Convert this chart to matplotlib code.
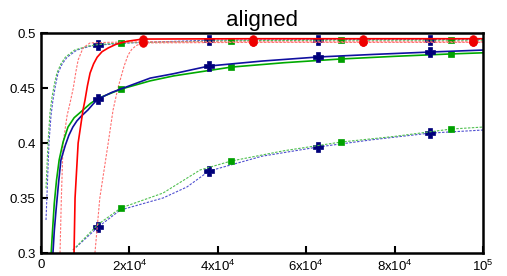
import numpy as np
import matplotlib
matplotlib.use('Agg')
import matplotlib.pyplot as plt

plt.rcParams['font.family'] = ['Liberation Sans', 'DejaVu Sans']
plt.rcParams['mathtext.fontset'] = 'custom'
plt.rcParams['mathtext.rm'] = 'Liberation Sans'
plt.rcParams['mathtext.it'] = 'Liberation Sans'

# solid curves
blue_x = [2700, 3000, 3400, 4000, 4500, 5500, 6300, 7200, 8100, 9000, 10600, 11800, 12900, 16000, 20000,
          24700, 30000, 38000, 50000, 62700, 75000, 88000, 100000]
blue_y = [0.300, 0.320, 0.339, 0.365, 0.3845, 0.398, 0.407, 0.4145, 0.420, 0.424, 0.430, 0.4355, 0.440, 0.446,
          0.452, 0.459, 0.463, 0.470, 0.4745, 0.4782, 0.4805, 0.4827, 0.4845]
blue_marks = [12900, 38000, 62700, 88000]

green_x = [2300, 2600, 3000, 3500, 4100, 5000, 6100, 7500, 9500, 11200, 12900, 18100, 24700, 30000, 43000,
           55000, 67900, 80000, 92800, 100000]
green_y = [0.300, 0.320, 0.345, 0.366, 0.3845, 0.401, 0.4145, 0.423, 0.430, 0.436, 0.4405, 0.449, 0.4565,
           0.461, 0.469, 0.473, 0.4764, 0.4788, 0.481, 0.482]
green_marks = [18100, 43000, 67900, 92800]

red_x = [7470, 7700, 8400, 9500, 9950, 10500, 11100, 11900, 12700, 13800, 15200, 17000, 19500, 23000,
         48000, 72800, 97700, 100000]
red_y = [0.300, 0.350, 0.400, 0.430, 0.439, 0.452, 0.4636, 0.472, 0.478, 0.483, 0.4864, 0.4898, 0.4925,
         0.4945, 0.4948, 0.4948, 0.4948, 0.4948]
red_marks = [23000, 48000, 72800, 97700]

# dashed curves, fast start
blue_fast_x = [1130, 1800, 2260, 2700, 3300, 3850, 4800, 5900, 8100, 11100, 12900, 20000, 38000, 62700,
               88000, 100000]
blue_fast_y = [0.330, 0.400, 0.425, 0.439, 0.453, 0.4636, 0.472, 0.478, 0.4845, 0.488, 0.489, 0.491,
               0.4935, 0.494, 0.494, 0.494]
green_fast_x = [1130, 1580, 2040, 2500, 3100, 3600, 4500, 5500, 7600, 10500, 13000, 18100, 43000, 67900,
                92800, 100000]
green_fast_y = [0.359, 0.400, 0.428, 0.442, 0.455, 0.4636, 0.472, 0.478, 0.4845, 0.488, 0.4895, 0.491,
                0.493, 0.4935, 0.4935, 0.4935]
red_fast_x = [4300, 4600, 5000, 5900, 6600, 7300, 7900, 8400, 9500, 11100, 15000, 23000, 48000, 72800,
              97700, 100000]
red_fast_y = [0.300, 0.350, 0.400, 0.425, 0.437, 0.450, 0.465, 0.4755, 0.4864, 0.491, 0.4915, 0.492,
              0.492, 0.492, 0.492, 0.492]

# dashed curves, slow start
blue_slow_x = [7240, 12900, 17900, 27600, 33000, 38000, 50000, 62700, 75000, 88000, 100000]
blue_slow_y = [0.3027, 0.3236, 0.339, 0.350, 0.360, 0.3745, 0.388, 0.3964, 0.403, 0.409, 0.4118]
green_slow_x = [7240, 12900, 18100, 27600, 36000, 43000, 55000, 67900, 80000, 92800, 100000]
green_slow_y = [0.3027, 0.326, 0.341, 0.3545, 0.3755, 0.3836, 0.393, 0.4009, 0.406, 0.4127, 0.4145]
red_slow_x = [12200, 13300, 15200, 16300, 17400, 18800, 19700, 20500, 21500, 22900, 48000, 72800, 97700, 100000]
red_slow_y = [0.300, 0.350, 0.400, 0.430, 0.450, 0.470, 0.480, 0.485, 0.4885, 0.491, 0.4915, 0.4915,
              0.4915, 0.4915]

xticks = [0, 20000, 40000, 60000, 80000, 100000]
xticklabels = ['0', r'2x10$^{4}$', r'4x10$^{4}$', r'6x10$^{4}$', r'8x10$^{4}$', r'10$^{5}$']
yticks = [0.3, 0.35, 0.4, 0.45, 0.5]
yticklabels = ['0.3', '0.35', '0.4', '0.45', '0.5']

fig = plt.figure(figsize=(5.07, 2.76), dpi=100)
ax = fig.add_axes([0.0809, 0.0833, 0.8718, 0.7971])

dash = (0, (2.2, 1.3))
series = [
    (blue_fast_x, blue_fast_y, '#5050d0', dash, 0.8, blue_marks, 'P', '#00007a', 6.5),
    (green_fast_x, green_fast_y, '#50c050', dash, 0.8, green_marks, 's', '#00a000', 3.8),
    (red_fast_x, red_fast_y, '#ff7070', dash, 0.8, red_marks, 'o', '#ee0000', 5.5),
    (blue_slow_x, blue_slow_y, '#5050d0', dash, 0.8, blue_marks, 'P', '#00007a', 6.5),
    (green_slow_x, green_slow_y, '#50c050', dash, 0.8, green_marks, 's', '#00a000', 3.8),
    (red_slow_x, red_slow_y, '#ff7070', dash, 0.8, red_marks, 'o', '#ee0000', 5.5),
    (green_x, green_y, '#00aa00', '-', 1.2, green_marks, 's', '#00a000', 3.8),
    (blue_x, blue_y, '#1010a0', '-', 1.2, blue_marks, 'P', '#00007a', 6.5),
    (red_x, red_y, '#ff0000', '-', 1.2, red_marks, 'o', '#ee0000', 5.5),
]
for xs, ys, c, ls, lw, marks, m, mc, ms in series:
    ax.plot(xs, ys, color=c, linestyle=ls, linewidth=lw)
    my = np.interp(marks, xs, ys)
    ax.plot(marks, my, linestyle='none', marker=m, color=mc, markersize=ms,
            markeredgewidth=0.5)

ax.set_xlim(0, 100000)
ax.set_ylim(0.3, 0.5)
ax.set_xticks(xticks)
ax.set_xticklabels(xticklabels)
ax.set_yticks(yticks)
ax.set_yticklabels(yticklabels)
ax.tick_params(direction='in', length=5, width=1.5, labelsize=9.5, pad=4)
for s in ax.spines.values():
    s.set_linewidth(1.8)
ax.set_title('aligned', fontsize=16, pad=5)

fig.savefig('out.png', dpi=100)
